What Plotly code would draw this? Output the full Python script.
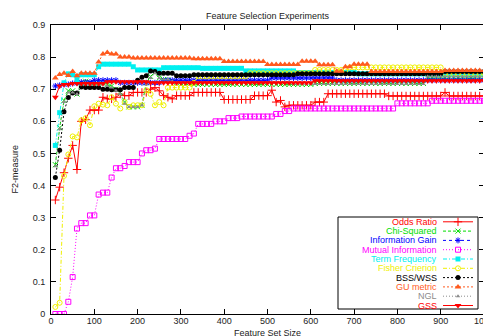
import plotly.graph_objects as go

# ---------------- data ----------------
FEATURE_SET_SIZE = list(range(10, 1001, 10))

ODDS_RATIO = ([0.355, 0.395, 0.44, 0.485, 0.525, 0.45, 0.60, 0.605, 0.635, 0.635,
               0.635, 0.675, 0.67, 0.67, 0.675, 0.685, 0.68, 0.68, 0.69, 0.69,
               0.69, 0.69, 0.70, 0.705, 0.695, 0.68, 0.675, 0.67]
              + [0.68] * 4 + [0.69] * 7 + [0.668] * 7 + [0.68] * 4
              + [0.697, 0.66, 0.665, 0.645] + [0.65] * 6 + [0.66] * 3
              + [0.686] * 14 + [0.679] * 13 + [0.69] + [0.679] * 9)

CHI_SQUARED = ([0.465, 0.58, 0.665, 0.695, 0.695, 0.685, 0.72, 0.725, 0.72, 0.72,
                0.72, 0.72, 0.715, 0.71, 0.70, 0.69, 0.66, 0.645, 0.645, 0.645,
                0.65, 0.72, 0.74, 0.752, 0.735, 0.73, 0.73, 0.725, 0.72, 0.715]
               + [0.715] * 30 + [0.718] * 26 + [0.735] * 14)

INFORMATION_GAIN = ([0.71, 0.712, 0.715, 0.715, 0.718, 0.72, 0.722, 0.722, 0.722]
                    + [0.728] * 6 + [0.72] * 10 + [0.728] * 25 + [0.735] * 15
                    + [0.728] * 35)

MUTUAL_INFORMATION = ([0.0, 0.0, 0.0, 0.038, 0.115, 0.266, 0.283, 0.283, 0.307, 0.307,
                       0.372, 0.378, 0.378, 0.425, 0.454, 0.454, 0.461, 0.473, 0.473, 0.473,
                       0.50, 0.51, 0.51, 0.515]
                      + [0.545] * 7 + [0.555, 0.562] + [0.592] * 4 + [0.60] * 3
                      + [0.61] * 3 + [0.615] * 8 + [0.623] * 2 + [0.632] * 2
                      + [0.64] * 24 + [0.656] * 8 + [0.664] * 13)

TERM_FREQUENCY = ([0.525, 0.627, 0.72, 0.748, 0.745, 0.73, 0.745, 0.745, 0.745, 0.745, 0.77]
                  + [0.778] * 7 + [0.77] + [0.76] * 6 + [0.767] * 9 + [0.765] * 10
                  + [0.757] * 12 + [0.752] * 14 + [0.748] * 30)

FISHER_CRITERION = ([0.022, 0.035, 0.43, 0.497, 0.553, 0.55, 0.603, 0.61, 0.588, 0.647,
                     0.655, 0.652, 0.65, 0.675, 0.655, 0.64, 0.66, 0.645, 0.65, 0.65,
                     0.65, 0.697, 0.685, 0.65, 0.66, 0.65]
                    + [0.705] * 6 + [0.72] + [0.74] * 12 + [0.75] * 15 + [0.76] * 8
                    + [0.768] * 22 + [0.75] * 10)

BSS_WSS = ([0.425, 0.51, 0.63, 0.674, 0.688, 0.688, 0.707, 0.705, 0.705, 0.705,
            0.705, 0.70, 0.70, 0.698, 0.698, 0.698, 0.705, 0.705, 0.705, 0.728,
            0.737, 0.742, 0.757, 0.755]
           + [0.75] * 4 + [0.742] * 4 + [0.745] * 24 + [0.748] * 34 + [0.755] * 10)

GU_METRIC = ([0.735, 0.746, 0.75, 0.743, 0.755, 0.742, 0.75, 0.75, 0.75, 0.75,
              0.785, 0.81, 0.814, 0.81, 0.81]
             + [0.80] * 3 + [0.797] * 14 + [0.795] * 7 + [0.786] * 10 + [0.777] * 8
             + [0.787] * 4 + [0.776] * 4 + [0.756] * 2 + [0.77] * 2 + [0.778] * 4
             + [0.755] * 17 + [0.758] * 10)

NGL = ([0.46, 0.575, 0.66, 0.69, 0.69, 0.685, 0.715, 0.72, 0.715, 0.715,
        0.715, 0.715, 0.71, 0.705, 0.695, 0.685, 0.655, 0.645, 0.645, 0.645,
        0.65, 0.715, 0.735, 0.75, 0.735, 0.73, 0.73, 0.725, 0.72, 0.72]
       + [0.72] * 25 + [0.716] * 31 + [0.74] * 14)

GSS = ([0.675, 0.71, 0.715, 0.715] + [0.718] * 8 + [0.723] * 10 + [0.72] * 38
       + [0.726] * 40)

SERIES_NAMES = ["Odds Ratio", "Chi-Squared", "Information Gain", "Mutual Information",
                "Term Frequency", "Fisher Crierion", "BSS/WSS", "GU metric", "NGL", "GSS"]
SERIES_VALUES = [ODDS_RATIO, CHI_SQUARED, INFORMATION_GAIN, MUTUAL_INFORMATION,
                 TERM_FREQUENCY, FISHER_CRITERION, BSS_WSS, GU_METRIC, NGL, GSS]

X_TICKS = [0, 100, 200, 300, 400, 500, 600, 700, 800, 900, 1000]
Y_TICKS = [0, 0.1, 0.2, 0.3, 0.4, 0.5, 0.6, 0.7, 0.8, 0.9]
Y_TICK_LABELS = ["0", "0.1", "0.2", "0.3", "0.4", "0.5", "0.6", "0.7", "0.8", "0.9"]

# ---------------- styles ----------------
STYLES = [
    dict(color="#ff0000", dash="solid", symbol="cross-thin", size=6, open=True),
    dict(color="#00dd00", dash="3px,2px", symbol="x-thin", size=5, open=True),
    dict(color="#0000ff", dash="dot", symbol="asterisk", size=5, open=True),
    dict(color="#ff00ff", dash="1px,2px", symbol="square-open", size=5, open=False),
    dict(color="#00f0f0", dash="4px,2px,1px,2px", symbol="square", size=5, open=False),
    dict(color="#f0f000", dash="4px,2px,1px,2px", symbol="circle-open", size=5, open=False),
    dict(color="#000000", dash="2px,2px", symbol="circle", size=5, open=False),
    dict(color="#ff5a1e", dash="2px,2px", symbol="triangle-up", size=6, open=False),
    dict(color="#8c8c8c", dash="1px,2px", symbol="triangle-up", size=4, open=False),
    dict(color="#ff0000", dash="solid", symbol="triangle-down", size=6, open=False),
]

FONT = "Liberation Sans, Arial, Helvetica, sans-serif"

fig = go.Figure()

for name, vals, st in zip(SERIES_NAMES, SERIES_VALUES, STYLES):
    assert len(vals) == len(FEATURE_SET_SIZE), name
    marker = dict(symbol=st["symbol"], size=st["size"], color=st["color"])
    if st["open"]:
        marker["line"] = dict(color=st["color"], width=1)
    fig.add_trace(go.Scatter(
        x=FEATURE_SET_SIZE, y=vals, name=name, mode="lines+markers",
        line=dict(color=st["color"], width=1, dash=st["dash"]),
        marker=marker, showlegend=False, hoverinfo="skip"))

# ---------------- page geometry ----------------
# The page body has an 8px default margin, so the figure is shrunk by that
# amount and all page-pixel positions are measured from the window corner.
PAGE_W, PAGE_H, BODY = 491, 336, 8
W, H = PAGE_W - BODY, PAGE_H - BODY
PLOT_L, PLOT_R, PLOT_T, PLOT_B = 51, 484, 25, 314      # in window pixels
ML, MR, MT, MB = PLOT_L - BODY, PAGE_W - PLOT_R, PLOT_T - BODY, PAGE_H - PLOT_B
PW, PH = PLOT_R - PLOT_L, PLOT_B - PLOT_T


def px_to_paper_x(px):
    return (px - PLOT_L) / PW


def px_to_paper_y(py):
    return (PLOT_B - py) / PH


KEY_LEFT, KEY_RIGHT, KEY_TOP, KEY_BOTTOM = 338, 478, 217, 309
ROW0, ROW_STEP = 221.8, 9.3
TEXT_RIGHT, SAMPLE_L, SAMPLE_R, SAMPLE_M = 439, 443, 473, 458

shapes = [dict(type="rect", xref="paper", yref="paper",
               x0=px_to_paper_x(KEY_LEFT), x1=px_to_paper_x(KEY_RIGHT),
               y0=px_to_paper_y(KEY_BOTTOM), y1=px_to_paper_y(KEY_TOP),
               line=dict(color="black", width=1), fillcolor="white", layer="below")]

annotations = []
for i, (name, st) in enumerate(zip(SERIES_NAMES, STYLES)):
    yy = px_to_paper_y(ROW0 + i * ROW_STEP)
    annotations.append(dict(text=name, xref="paper", yref="paper",
                            x=px_to_paper_x(TEXT_RIGHT), y=yy, xanchor="right",
                            yanchor="middle", showarrow=False,
                            font=dict(family=FONT, size=9, color=st["color"])))
    fig.add_trace(go.Scatter(
        x=[px_to_paper_x(SAMPLE_L), px_to_paper_x(SAMPLE_R)], y=[yy, yy],
        xaxis="x2", yaxis="y2", mode="lines",
        line=dict(color=st["color"], width=1, dash=st["dash"]),
        showlegend=False, hoverinfo="skip"))
    marker = dict(symbol=st["symbol"], size=st["size"], color=st["color"])
    if st["open"]:
        marker["line"] = dict(color=st["color"], width=1)
    fig.add_trace(go.Scatter(
        x=[px_to_paper_x(SAMPLE_M)], y=[yy], xaxis="x2", yaxis="y2",
        mode="markers", marker=marker, showlegend=False, hoverinfo="skip"))

# axis titles
annotations.append(dict(text="F2-measure", xref="paper", yref="paper", x=0, y=0.5,
                        xshift=-37, textangle=-90, showarrow=False,
                        xanchor="center", yanchor="middle",
                        font=dict(family=FONT, size=9, color="#222")))
annotations.append(dict(text="Feature Set Size", xref="paper", yref="paper", x=0.5, y=0,
                        yshift=-19, showarrow=False, xanchor="center", yanchor="middle",
                        font=dict(family=FONT, size=9, color="#222")))

axis_common = dict(showgrid=False, zeroline=False, showline=True, linecolor="black",
                   linewidth=1, mirror="ticks", ticks="inside", ticklen=5,
                   tickcolor="black", tickwidth=1, automargin=False,
                   ticklabeloverflow="allow",
                   tickfont=dict(family=FONT, size=9, color="#222"))

fig.update_layout(
    width=W, height=H,
    margin=dict(l=ML, r=MR, t=MT, b=MB, pad=0),
    paper_bgcolor="white", plot_bgcolor="white",
    title=dict(text="Feature Selection Experiments", x=0.5, xref="paper",
               y=1 - (16 - BODY) / H, yref="container", xanchor="center",
               yanchor="middle",
               font=dict(family=FONT, size=9, color="#222")),
    xaxis=dict(range=[0, 1000], tickvals=X_TICKS, ticklabelstandoff=-2, **axis_common),
    yaxis=dict(range=[0, 0.9], tickvals=Y_TICKS, ticktext=Y_TICK_LABELS,
               ticklabelstandoff=3, **axis_common),
    xaxis2=dict(overlaying="x", range=[0, 1], visible=False, fixedrange=True),
    yaxis2=dict(overlaying="y", range=[0, 1], visible=False, fixedrange=True),
    shapes=shapes,
    annotations=annotations,
    showlegend=False,
)

fig.write_html("out.html")
